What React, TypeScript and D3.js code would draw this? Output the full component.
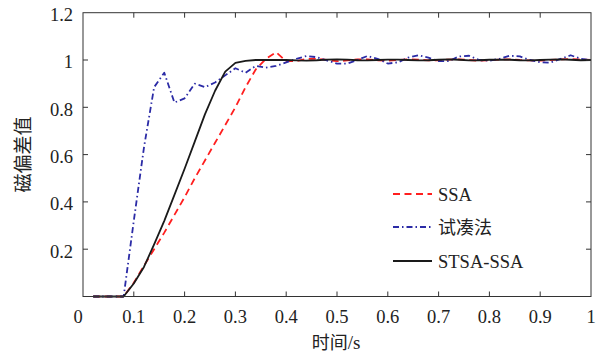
import * as d3 from 'd3';

const times = [0.02, 0.08, 0.10, 0.12, 0.14, 0.16, 0.18, 0.20, 0.22, 0.24, 0.26, 0.28, 0.30, 0.32, 0.34, 0.36, 0.38, 0.40, 0.42, 0.44, 0.46, 0.48, 0.50, 0.52, 0.54, 0.56, 0.58, 0.60, 0.62, 0.64, 0.66, 0.68, 0.70, 0.72, 0.74, 0.76, 0.78, 0.80, 0.82, 0.84, 0.86, 0.88, 0.90, 0.92, 0.94, 0.96, 0.98, 1.00];

const ssaValues = [0, 0, 0.058, 0.13, 0.20, 0.27, 0.345, 0.42, 0.50, 0.575, 0.65, 0.725, 0.80, 0.885, 0.96, 1.005, 1.033, 0.995, 0.995, 1.005, 1.005, 1.0, 0.995, 0.998, 1.003, 1.003, 0.998, 0.997, 1.0, 1.003, 1.002, 0.998, 0.998, 1.002, 1.003, 1.0, 0.997, 0.999, 1.002, 1.003, 1.0, 0.998, 0.997, 1.0, 1.003, 1.004, 1.002, 1.0];

const trialValues = [0, 0, 0.32, 0.63, 0.885, 0.946, 0.82, 0.838, 0.90, 0.885, 0.905, 0.935, 0.965, 0.946, 0.975, 0.968, 0.975, 0.99, 1.005, 1.017, 1.012, 0.998, 0.985, 0.985, 1.0, 1.017, 1.005, 0.985, 0.99, 1.01, 1.02, 1.01, 0.995, 0.995, 1.015, 1.018, 1.0, 0.997, 1.005, 1.018, 1.015, 1.0, 0.99, 0.989, 1.005, 1.02, 1.005, 1.0];

const stsaValues = [0, 0, 0.055, 0.125, 0.22, 0.32, 0.43, 0.54, 0.655, 0.77, 0.87, 0.951, 0.988, 0.996, 1.0, 1.0, 1.0, 1.0, 0.998, 0.997, 0.999, 1.002, 1.003, 1.002, 0.999, 0.998, 1.0, 1.002, 1.002, 1.0, 0.998, 0.999, 1.001, 1.003, 1.001, 0.998, 0.999, 1.001, 1.002, 1.001, 0.999, 0.998, 1.0, 1.002, 1.003, 1.001, 0.999, 1.0];

const xTicks = [0, 0.1, 0.2, 0.3, 0.4, 0.5, 0.6, 0.7, 0.8, 0.9, 1];
const yTicks = [0.2, 0.4, 0.6, 0.8, 1, 1.2];

const seriesNames = ['SSA', '试凑法', 'STSA-SSA'];

const WIDTH = 602;
const HEIGHT = 355;
const margin = { top: 12.7, right: 11, bottom: 58.5, left: 83 };

const serif = 'Liberation Serif';
const cjk = 'Noto Sans CJK SC';

export default function App() {
    const x = d3.scaleLinear().domain([0, 1]).range([margin.left, WIDTH - margin.right]);
    const y = d3.scaleLinear().domain([0, 1.2]).range([HEIGHT - margin.bottom, margin.top]);

    const line = d3.line<number>()
        .x((_, i) => x(times[i]))
        .y(d => y(d));

    const styles = [
        { values: ssaValues, stroke: '#ff1f1f', dash: '7,4.5' },
        { values: trialValues, stroke: '#2b2ba6', dash: '6,3,1.5,3' },
        { values: stsaValues, stroke: '#1a1a1a', dash: undefined },
    ];

    const x0 = x(0), x1 = x(1), y0 = y(0), y1 = y(1.2);
    const legendX = 393;
    const legendY = [194, 227, 261];

    return (
        <svg width={WIDTH} height={HEIGHT} style={{ position: 'absolute', left: 0, top: 0, background: '#fff' }}>
            {/* lines */}
            {styles.map((s, i) => (
                <path key={i} d={line(s.values) ?? ''} fill="none" stroke={s.stroke}
                    strokeWidth={1.8} strokeDasharray={s.dash} strokeLinejoin="round" />
            ))}

            {/* frame */}
            <rect x={x0} y={y1} width={x1 - x0} height={y0 - y1} fill="none" stroke="#333" strokeWidth={1} />

            {/* x ticks */}
            {xTicks.map(t => (
                <g key={'x' + t}>
                    {t > 0 && t < 1 && <line x1={x(t)} x2={x(t)} y1={y0} y2={y0 - 5} stroke="#333" />}
                    {t > 0 && t < 1 && <line x1={x(t)} x2={x(t)} y1={y1} y2={y1 + 5} stroke="#333" />}
                    <text x={t === 0 ? x(t) - 5 : x(t)} y={y0 + 26} textAnchor="middle"
                        style={{ fontFamily: serif, fontSize: 18.5 }} fill="#222">{String(t)}</text>
                </g>
            ))}

            {/* y ticks */}
            {yTicks.map(t => (
                <g key={'y' + t}>
                    {t < 1.2 && <line x1={x0} x2={x0 + 5} y1={y(t)} y2={y(t)} stroke="#333" />}
                    {t < 1.2 && <line x1={x1} x2={x1 - 5} y1={y(t)} y2={y(t)} stroke="#333" />}
                    <text x={x0 - 10} y={y(t) + 2} dy="0.35em" textAnchor="end"
                        style={{ fontFamily: serif, fontSize: 18.5 }} fill="#222">{String(t)}</text>
                </g>
            ))}

            {/* axis titles */}
            <text x={336} y={349} textAnchor="middle" fill="#222">
                <tspan style={{ fontFamily: cjk, fontSize: 18 }}>时间</tspan>
                <tspan style={{ fontFamily: serif, fontSize: 19 }}>/s</tspan>
            </text>
            <text transform={`translate(23,${(y0 + y1) / 2}) rotate(-90)`} textAnchor="middle" dy="0.35em"
                style={{ fontFamily: cjk, fontSize: 19 }} fill="#222">磁偏差值</text>

            {/* legend */}
            {styles.map((s, i) => (
                <g key={'l' + i}>
                    <line x1={legendX} x2={legendX + 39} y1={legendY[i]} y2={legendY[i]}
                        stroke={s.stroke} strokeWidth={1.8} strokeDasharray={s.dash} />
                    <text x={legendX + 45} y={legendY[i] + 1} dy="0.35em"
                        style={{ fontFamily: i === 1 ? cjk : serif, fontSize: i === 1 ? 18 : 18.5 }}
                        fill="#222">{seriesNames[i]}</text>
                </g>
            ))}
        </svg>
    );
}
